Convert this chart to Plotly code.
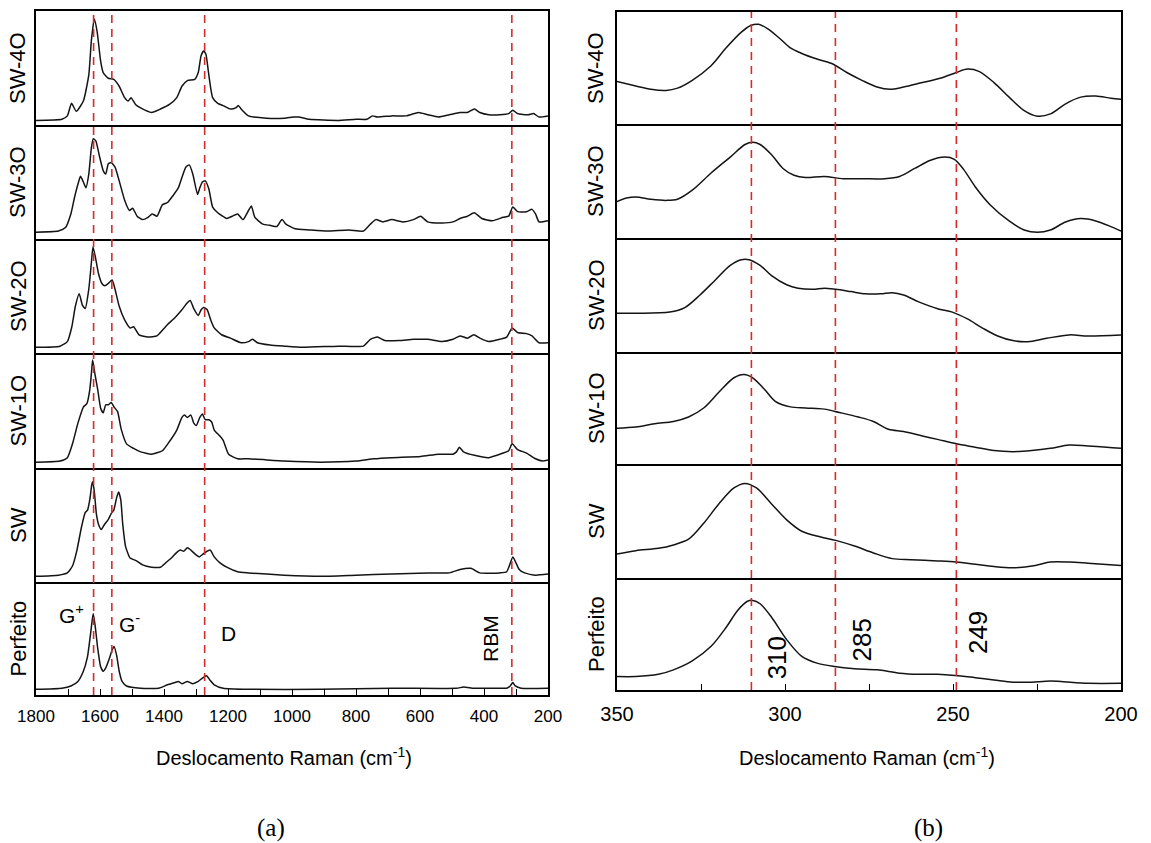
import plotly.graph_objects as go

# Raman spectra of the SWCNT samples, (wavenumber cm-1, normalised intensity)
SAMPLES = ["SW-4O", "SW-3O", "SW-2O", "SW-1O", "SW", "Perfeito"]

# ---------- panel (a): 1800-200 cm-1 ----------
A_SW4O = [(1800, 0.04), (1719, 0.05), (1702, 0.08), (1689, 0.19), (1674, 0.12), (1652, 0.21),
          (1635, 0.44), (1627, 0.74), (1618, 0.93), (1609, 0.82), (1598, 0.56), (1590, 0.46),
          (1574, 0.41), (1557, 0.40), (1540, 0.34), (1523, 0.24), (1512, 0.21), (1503, 0.24),
          (1489, 0.18), (1473, 0.15), (1439, 0.11), (1411, 0.14), (1383, 0.18), (1360, 0.24),
          (1344, 0.34), (1327, 0.39), (1304, 0.40), (1293, 0.46), (1284, 0.61), (1276, 0.65),
          (1269, 0.62), (1260, 0.44), (1248, 0.24), (1232, 0.19), (1215, 0.17), (1192, 0.14),
          (1176, 0.15), (1167, 0.17), (1159, 0.14), (1136, 0.08), (1080, 0.06), (1024, 0.06),
          (996, 0.07), (979, 0.07), (946, 0.05), (856, 0.04), (800, 0.05), (766, 0.05),
          (749, 0.08), (733, 0.07), (688, 0.08), (643, 0.08), (604, 0.11), (576, 0.09),
          (542, 0.07), (508, 0.09), (475, 0.11), (452, 0.11), (430, 0.14), (413, 0.11),
          (385, 0.09), (351, 0.09), (323, 0.10), (310, 0.13), (295, 0.10), (262, 0.09),
          (245, 0.10), (228, 0.07), (200, 0.08)]

A_SW3O = [(1800, 0.06), (1730, 0.07), (1708, 0.10), (1691, 0.22), (1680, 0.36), (1669, 0.48),
          (1661, 0.55), (1652, 0.50), (1644, 0.45), (1635, 0.57), (1627, 0.80), (1621, 0.88),
          (1613, 0.86), (1602, 0.73), (1590, 0.60), (1582, 0.57), (1574, 0.66), (1565, 0.67),
          (1553, 0.63), (1540, 0.51), (1523, 0.34), (1508, 0.25), (1498, 0.27), (1484, 0.20),
          (1467, 0.17), (1450, 0.19), (1437, 0.22), (1422, 0.20), (1405, 0.30), (1389, 0.32),
          (1372, 0.38), (1355, 0.45), (1344, 0.54), (1332, 0.63), (1321, 0.65), (1310, 0.57),
          (1295, 0.39), (1288, 0.45), (1280, 0.50), (1271, 0.51), (1260, 0.44), (1248, 0.28),
          (1232, 0.23), (1204, 0.18), (1187, 0.20), (1170, 0.22), (1153, 0.17), (1136, 0.25),
          (1127, 0.29), (1116, 0.19), (1091, 0.13), (1069, 0.12), (1047, 0.11), (1035, 0.16),
          (1030, 0.17), (1019, 0.13), (990, 0.09), (946, 0.08), (890, 0.07), (822, 0.08),
          (777, 0.07), (755, 0.13), (738, 0.17), (716, 0.15), (688, 0.17), (654, 0.15),
          (621, 0.17), (598, 0.20), (576, 0.15), (531, 0.14), (497, 0.15), (475, 0.18),
          (452, 0.20), (430, 0.23), (407, 0.18), (374, 0.16), (340, 0.19), (323, 0.20),
          (310, 0.28), (295, 0.24), (267, 0.24), (250, 0.26), (239, 0.22), (228, 0.15),
          (200, 0.16)]

A_SW2O = [(1800, 0.05), (1725, 0.06), (1702, 0.10), (1688, 0.23), (1677, 0.41), (1665, 0.52),
          (1655, 0.42), (1646, 0.39), (1635, 0.56), (1627, 0.79), (1622, 0.93), (1615, 0.85),
          (1605, 0.70), (1594, 0.61), (1585, 0.59), (1574, 0.61), (1562, 0.64), (1554, 0.57),
          (1540, 0.41), (1523, 0.29), (1506, 0.22), (1495, 0.23), (1478, 0.16), (1450, 0.14),
          (1422, 0.15), (1405, 0.20), (1389, 0.25), (1366, 0.31), (1344, 0.38), (1327, 0.44),
          (1318, 0.46), (1307, 0.39), (1293, 0.33), (1284, 0.38), (1276, 0.40), (1265, 0.38),
          (1254, 0.29), (1243, 0.22), (1220, 0.16), (1192, 0.13), (1159, 0.09), (1136, 0.10),
          (1123, 0.12), (1108, 0.09), (1069, 0.07), (1024, 0.06), (968, 0.05), (856, 0.06),
          (777, 0.06), (755, 0.12), (733, 0.14), (710, 0.11), (665, 0.11), (620, 0.12),
          (576, 0.12), (531, 0.10), (497, 0.12), (475, 0.15), (452, 0.13), (432, 0.16),
          (413, 0.13), (385, 0.10), (351, 0.12), (329, 0.14), (312, 0.22), (295, 0.18),
          (267, 0.17), (250, 0.15), (228, 0.09), (200, 0.09)]

A_SW1O = [(1800, 0.05), (1725, 0.06), (1702, 0.09), (1686, 0.21), (1669, 0.39), (1652, 0.53),
          (1641, 0.56), (1632, 0.68), (1626, 0.85), (1623, 0.94), (1616, 0.82), (1607, 0.68),
          (1598, 0.52), (1590, 0.48), (1582, 0.55), (1574, 0.55), (1565, 0.57), (1556, 0.53),
          (1545, 0.49), (1534, 0.34), (1517, 0.21), (1495, 0.17), (1473, 0.14), (1439, 0.12),
          (1405, 0.15), (1383, 0.23), (1360, 0.33), (1344, 0.44), (1336, 0.46), (1327, 0.44),
          (1316, 0.46), (1307, 0.39), (1299, 0.37), (1288, 0.44), (1280, 0.47), (1271, 0.42),
          (1260, 0.42), (1251, 0.40), (1243, 0.33), (1226, 0.28), (1215, 0.24), (1198, 0.12),
          (1170, 0.08), (1136, 0.08), (1024, 0.06), (912, 0.05), (800, 0.06), (744, 0.08),
          (688, 0.09), (598, 0.10), (542, 0.12), (497, 0.12), (486, 0.14), (477, 0.18),
          (464, 0.14), (430, 0.11), (385, 0.09), (340, 0.13), (323, 0.15), (312, 0.21),
          (295, 0.16), (267, 0.13), (239, 0.08), (217, 0.06), (200, 0.07)]

A_SW = [(1800, 0.05), (1730, 0.06), (1702, 0.08), (1686, 0.14), (1672, 0.28), (1658, 0.48),
        (1646, 0.61), (1639, 0.63), (1632, 0.72), (1626, 0.85), (1623, 0.88), (1618, 0.80),
        (1611, 0.59), (1604, 0.50), (1596, 0.46), (1587, 0.50), (1574, 0.55), (1565, 0.60),
        (1557, 0.63), (1548, 0.74), (1542, 0.79), (1535, 0.72), (1529, 0.51), (1520, 0.31),
        (1506, 0.21), (1489, 0.19), (1467, 0.15), (1439, 0.13), (1411, 0.13), (1394, 0.17),
        (1377, 0.21), (1360, 0.26), (1349, 0.28), (1338, 0.27), (1327, 0.30), (1316, 0.28),
        (1301, 0.24), (1290, 0.22), (1276, 0.25), (1256, 0.28), (1243, 0.22), (1226, 0.17),
        (1204, 0.13), (1170, 0.09), (1136, 0.08), (1024, 0.06), (912, 0.05), (800, 0.06),
        (688, 0.07), (576, 0.08), (508, 0.08), (475, 0.11), (441, 0.12), (413, 0.08),
        (351, 0.08), (329, 0.09), (310, 0.22), (302, 0.18), (290, 0.11), (273, 0.08),
        (239, 0.06), (200, 0.07)]

A_PERF = [(1800, 0.05), (1719, 0.06), (1691, 0.08), (1669, 0.12), (1652, 0.21), (1639, 0.34),
          (1630, 0.53), (1624, 0.67), (1621, 0.72), (1615, 0.61), (1607, 0.41), (1598, 0.25),
          (1590, 0.21), (1582, 0.24), (1571, 0.32), (1562, 0.40), (1556, 0.43), (1548, 0.35),
          (1540, 0.21), (1531, 0.12), (1517, 0.08), (1473, 0.06), (1417, 0.06), (1389, 0.09),
          (1366, 0.11), (1355, 0.12), (1344, 0.10), (1327, 0.12), (1310, 0.10), (1293, 0.12),
          (1280, 0.15), (1267, 0.17), (1256, 0.13), (1243, 0.09), (1215, 0.06), (1136, 0.05),
          (912, 0.05), (688, 0.06), (486, 0.06), (464, 0.07), (430, 0.06), (351, 0.06),
          (329, 0.06), (318, 0.08), (310, 0.11), (302, 0.08), (284, 0.06), (200, 0.06)]

# ---------- panel (b): RBM region, 350-200 cm-1 ----------
B_SW4O = [(350, 0.38), (344.4, 0.34), (339.9, 0.31), (335.4, 0.30), (332.0, 0.32), (327.6, 0.39),
          (322.0, 0.52), (317.5, 0.68), (313.0, 0.82), (310.2, 0.88), (307.9, 0.89), (305.1, 0.85),
          (301.8, 0.77), (298.4, 0.68), (295.0, 0.63), (290.5, 0.58), (286.1, 0.54), (281.6, 0.46),
          (277.1, 0.39), (272.6, 0.33), (268.7, 0.31), (264.7, 0.33), (259.1, 0.37), (253.5, 0.41),
          (249.0, 0.46), (245.7, 0.49), (242.3, 0.47), (237.8, 0.37), (233.3, 0.24), (228.8, 0.12),
          (224.9, 0.07), (221.0, 0.09), (216.5, 0.18), (212.0, 0.24), (207.5, 0.25), (203.0, 0.23),
          (200, 0.22)]

B_SW3O = [(350, 0.32), (347.2, 0.35), (344.4, 0.36), (339.9, 0.34), (335.4, 0.33), (332.0, 0.34),
          (327.6, 0.42), (322.0, 0.57), (316.3, 0.71), (311.9, 0.82), (309.6, 0.84), (307.4, 0.82),
          (304.0, 0.73), (300.6, 0.61), (297.3, 0.55), (293.9, 0.53), (288.3, 0.54), (282.7, 0.52),
          (277.1, 0.52), (270.3, 0.52), (265.9, 0.54), (261.4, 0.61), (256.9, 0.68), (252.4, 0.71),
          (249.6, 0.69), (246.8, 0.60), (243.4, 0.45), (238.9, 0.29), (233.3, 0.15), (228.8, 0.07),
          (224.9, 0.05), (221.0, 0.07), (216.5, 0.14), (212.0, 0.17), (207.5, 0.15), (203.0, 0.10),
          (200, 0.06)]

B_SW2O = [(350, 0.34), (344.4, 0.34), (334.3, 0.35), (329.8, 0.39), (325.3, 0.50), (320.8, 0.63),
          (316.3, 0.76), (313.0, 0.81), (310.7, 0.81), (307.4, 0.76), (304.0, 0.67), (299.5, 0.59),
          (296.1, 0.56), (291.7, 0.55), (288.3, 0.56), (284.9, 0.55), (280.4, 0.53), (276.0, 0.51),
          (271.5, 0.51), (268.1, 0.52), (264.7, 0.50), (260.2, 0.44), (254.6, 0.38), (250.2, 0.35),
          (245.7, 0.29), (241.2, 0.21), (236.7, 0.14), (232.2, 0.10), (227.7, 0.09), (222.1, 0.12),
          (215.4, 0.15), (209.8, 0.14), (200, 0.15)]

B_SW1O = [(350, 0.32), (344.4, 0.33), (338.8, 0.36), (333.2, 0.38), (328.7, 0.42), (324.2, 0.50),
          (319.7, 0.64), (315.2, 0.77), (312.2, 0.80), (309.6, 0.77), (306.2, 0.67), (302.9, 0.56),
          (298.4, 0.51), (293.9, 0.50), (288.3, 0.49), (283.8, 0.46), (278.2, 0.42), (273.7, 0.38),
          (269.2, 0.31), (264.7, 0.29), (259.1, 0.25), (254.6, 0.22), (249.0, 0.18), (243.4, 0.15),
          (237.8, 0.12), (232.2, 0.11), (226.6, 0.12), (221.0, 0.14), (215.4, 0.17), (209.8, 0.16),
          (204.2, 0.15), (200, 0.14)]

B_SW = [(350, 0.21), (344.4, 0.24), (337.7, 0.26), (333.2, 0.29), (328.7, 0.34), (324.2, 0.48),
        (319.7, 0.65), (315.2, 0.79), (311.9, 0.83), (308.5, 0.79), (304.0, 0.65), (299.5, 0.51),
        (295.0, 0.41), (289.4, 0.36), (284.9, 0.33), (279.3, 0.28), (273.7, 0.22), (268.1, 0.17),
        (262.5, 0.16), (254.6, 0.15), (249.0, 0.14), (243.4, 0.12), (237.8, 0.10), (232.2, 0.09),
        (225.5, 0.11), (221.0, 0.14), (215.4, 0.14), (209.8, 0.13), (200, 0.11)]

B_PERF = [(350, 0.12), (344.4, 0.12), (337.7, 0.14), (333.2, 0.18), (327.6, 0.26), (322.0, 0.39),
          (317.5, 0.56), (314.1, 0.71), (311.3, 0.79), (309.6, 0.80), (307.4, 0.77), (304.0, 0.65),
          (299.5, 0.45), (295.0, 0.30), (290.5, 0.24), (285.3, 0.21), (279.3, 0.19), (272.6, 0.18),
          (265.9, 0.15), (260.2, 0.14), (254.6, 0.14), (249.4, 0.13), (243.4, 0.11), (237.8, 0.09),
          (232.2, 0.07), (226.6, 0.07), (221.0, 0.08), (209.8, 0.06), (200, 0.06)]

# reference band positions (cm-1)
A_BANDS = [1620, 1563, 1273, 313]
B_BANDS = [310, 285, 249]

# band labels: (text, wavenumber, height in the bottom plot)
A_BAND_LABELS = [("G<sup>+</sup>", 1688, 0.72), ("G<sup>-</sup>", 1508, 0.64), ("D", 1198, 0.54)]
A_RBM_LABEL = ("RBM", 380, 0.50)
B_BAND_LABELS = [("310", 302.3, 0.285), ("285", 277.1, 0.45), ("249", 242.5, 0.51)]

A_RANGE = [1800, 200]
B_RANGE = [350, 200]
X_TITLE = "Deslocamento Raman (cm<sup>-1</sup>)"

# ---------- page geometry (pixels) ----------
W, H = 1151, 843
SANS = "Liberation Sans, Arial, sans-serif"
SERIF = "Liberation Serif, Times New Roman, serif"


def fx(p):
    return p / W


def fy(p):
    return 1 - p / H


PANELS = [
    dict(series=[A_SW4O, A_SW3O, A_SW2O, A_SW1O, A_SW, A_PERF], rng=A_RANGE,
         xpix=(36, 548), ybounds=[11, 125, 239, 353, 468, 582, 695],
         dtick=200, minor=100, tickfs=17, bands=A_BANDS, ylab_x=18,
         title_x=284, tag="(a)", tag_x=271),
    dict(series=[B_SW4O, B_SW3O, B_SW2O, B_SW1O, B_SW, B_PERF], rng=B_RANGE,
         xpix=(617, 1121), ybounds=[12, 124, 238, 352, 464, 578, 690],
         dtick=50, minor=25, tickfs=20, bands=B_BANDS, ylab_x=596,
         title_x=867, tag="(b)", tag_x=928),
]

fig = go.Figure()
layout = dict(width=W, height=H, margin=dict(l=0, r=0, t=0, b=0, pad=0, autoexpand=False),
              paper_bgcolor="white", plot_bgcolor="white", showlegend=False)
shapes, annotations = [], []

k = 0
for pi, p in enumerate(PANELS):
    n = len(p["series"])
    for i, (name, data) in enumerate(zip(SAMPLES, p["series"])):
        k += 1
        xs = [d[0] for d in data]
        ys = [d[1] for d in data]
        fig.add_trace(go.Scatter(
            x=xs, y=ys, mode="lines", name=name,
            xaxis=f"x{k}", yaxis=f"y{k}",
            line=dict(color="#141414", width=1.5, shape="spline",
                      smoothing=0.5 if pi == 0 else 0.9),
            hoverinfo="skip"))
        top, bot = p["ybounds"][i], p["ybounds"][i + 1]
        bottom_plot = i == n - 1
        # each plot draws only its lower frame edge, the top one also its upper edge,
        # so neighbouring plots share a single separating line
        xa = dict(domain=[fx(p["xpix"][0]), fx(p["xpix"][1])], anchor=f"y{k}",
                  range=p["rng"], showline=True, mirror=(i == 0), linecolor="black",
                  linewidth=1.5, showgrid=False, zeroline=False, fixedrange=True,
                  automargin=False)
        if bottom_plot:
            xa.update(ticks="inside", ticklen=6, tickwidth=1.3, tickcolor="black",
                      tick0=200, dtick=p["dtick"], showticklabels=True,
                      tickfont=dict(family=SANS, size=p["tickfs"], color="black"),
                      ticklabelstandoff=5,
                      minor=dict(ticks="inside", ticklen=6, tickwidth=1.3,
                                 tickcolor="black", tick0=200, dtick=p["minor"]))
        else:
            xa.update(ticks="", showticklabels=False)
        ya = dict(domain=[fy(bot), fy(top)], anchor=f"x{k}", range=[0, 1],
                  showline=True, mirror=True, linecolor="black", linewidth=1.5,
                  showgrid=False, zeroline=False, ticks="", showticklabels=False,
                  fixedrange=True, automargin=False)
        layout["xaxis" if k == 1 else f"xaxis{k}"] = xa
        layout["yaxis" if k == 1 else f"yaxis{k}"] = ya
        annotations.append(dict(text=name, xref="paper", yref="paper",
                                x=fx(p["ylab_x"]), y=fy((top + bot) / 2),
                                textangle=-90, showarrow=False,
                                xanchor="center", yanchor="middle",
                                font=dict(family=SANS, size=22, color="black")))
    # dashed band markers through the whole stack
    bottom_axis = f"x{k}"
    for b in p["bands"]:
        shapes.append(dict(type="line", xref=bottom_axis, yref="paper",
                           x0=b, x1=b, y0=fy(p["ybounds"][-1]), y1=fy(p["ybounds"][0]),
                           line=dict(color="#d42b2b", width=1.6, dash="8px,6px"),
                           layer="above"))
    # axis title and panel tag
    annotations.append(dict(text=X_TITLE, xref="paper", yref="paper", x=fx(p["title_x"]),
                            y=fy(756), showarrow=False, xanchor="center", yanchor="middle",
                            font=dict(family=SANS, size=20, color="black")))
    annotations.append(dict(text=p["tag"], xref="paper", yref="paper", x=fx(p["tag_x"]),
                            y=fy(828), showarrow=False, xanchor="center", yanchor="middle",
                            font=dict(family=SERIF, size=25, color="black")))

# band labels in the bottom plot of each panel
for text, xv, yv in A_BAND_LABELS:
    annotations.append(dict(text=text, xref="x6", yref="y6", x=xv, y=yv, showarrow=False,
                            xanchor="center", yanchor="middle",
                            font=dict(family=SANS, size=21, color="black")))
annotations.append(dict(text=A_RBM_LABEL[0], xref="x6", yref="y6", x=A_RBM_LABEL[1],
                        y=A_RBM_LABEL[2], textangle=-90, showarrow=False,
                        xanchor="center", yanchor="middle",
                        font=dict(family=SANS, size=21, color="black")))
for text, xv, yv in B_BAND_LABELS:
    annotations.append(dict(text=text, xref="x12", yref="y12", x=xv, y=yv, textangle=-90,
                            showarrow=False, xanchor="center", yanchor="middle",
                            font=dict(family=SANS, size=26, color="black")))

layout["shapes"] = shapes
layout["annotations"] = annotations
fig.update_layout(**layout)
fig.write_html("out.html", config={"displayModeBar": False})
